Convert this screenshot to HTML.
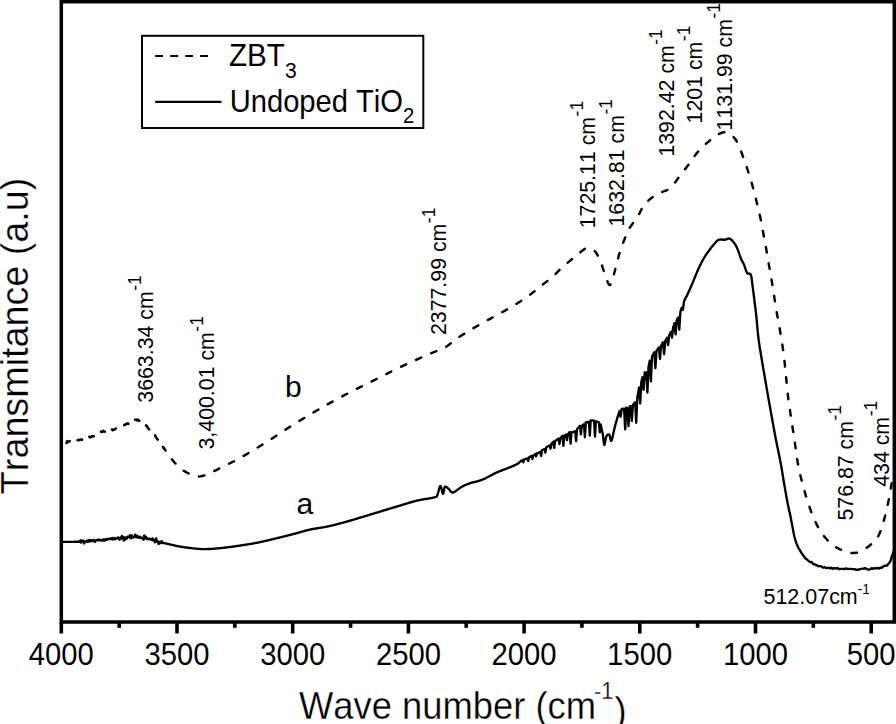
<!DOCTYPE html>
<html><head><meta charset="utf-8"><style>
html,body{margin:0;padding:0;background:#fff;overflow:hidden;width:896px;height:724px;}
svg{display:block;}
text{font-family:"Liberation Sans", sans-serif;fill:#000;font-kerning:none;}
.thin{stroke:#fff;stroke-width:0.3px;}
</style></head><body>
<svg width="896" height="724" viewBox="0 0 896 724">
<rect width="896" height="724" fill="#fff"/>
<g fill="none" stroke="#000" stroke-linejoin="round">
<path d="M62.5 541.8 L63.0 541.8 L63.5 541.8 L64.0 541.8 L64.5 541.8 L65.0 541.8 L65.5 541.8 L66.0 541.8 L66.5 541.8 L67.0 541.8 L67.5 541.8 L68.0 541.8 L68.5 541.8 L69.0 541.8 L69.5 541.8 L70.0 541.8 L70.5 541.8 L71.0 541.8 L71.5 541.8 L72.0 541.8 L72.5 541.8 L73.0 541.8 L73.5 541.8 L74.0 541.8 L74.5 541.7 L75.0 541.7 L75.5 541.7 L76.0 541.7 L76.5 541.7 L77.0 541.7 L77.5 541.7 L78.0 541.7 L78.5 541.7 L79.0 541.7 L79.5 541.7 L80.0 541.0 L80.6 540.3 L81.2 542.6 L81.8 541.7 L82.4 540.6 L83.0 540.5 L83.6 541.5 L84.2 543.5 L84.8 541.7 L85.4 541.3 L86.0 541.3 L86.6 540.8 L87.2 542.0 L87.8 541.9 L88.4 540.0 L89.0 541.1 L89.6 541.4 L90.2 540.0 L90.8 540.9 L91.4 540.2 L92.0 541.3 L92.6 540.4 L93.2 540.4 L93.8 540.8 L94.4 540.1 L95.0 541.9 L95.6 540.6 L96.2 540.4 L96.8 540.1 L97.4 540.4 L98.0 539.6 L98.6 540.1 L99.2 539.6 L99.8 540.4 L100.4 540.5 L101.0 540.4 L101.6 540.4 L102.2 539.8 L102.8 540.6 L103.4 539.5 L104.0 540.8 L104.6 539.6 L105.2 540.3 L105.8 539.7 L106.4 539.0 L107.0 539.7 L107.6 539.5 L108.2 538.9 L108.8 538.7 L109.4 539.1 L110.0 539.1 L110.6 538.7 L111.2 538.3 L111.8 539.2 L112.4 537.9 L113.0 539.3 L113.6 539.3 L114.2 538.7 L114.8 537.9 L115.4 539.1 L116.0 538.8 L116.6 538.6 L117.2 538.2 L117.8 537.4 L118.4 537.6 L119.0 538.6 L119.6 539.8 L120.2 537.6 L120.8 538.2 L121.4 538.5 L122.0 536.0 L122.6 537.3 L123.2 537.2 L123.8 540.5 L124.4 537.6 L125.0 537.5 L125.6 539.4 L126.2 537.6 L126.8 538.6 L127.4 536.6 L128.0 536.8 L128.6 537.1 L129.2 536.6 L129.8 535.4 L130.4 537.8 L131.0 538.4 L131.6 535.1 L132.2 537.1 L132.8 537.2 L133.4 537.7 L134.0 536.6 L134.6 536.6 L135.2 534.6 L135.8 537.1 L136.4 537.2 L137.0 535.7 L137.6 537.3 L138.2 537.2 L138.8 536.7 L139.4 537.9 L140.0 536.8 L140.6 537.1 L141.2 537.6 L141.8 538.3 L142.4 538.1 L143.0 538.3 L143.6 539.9 L144.2 535.4 L144.8 538.2 L145.4 536.9 L146.0 536.8 L146.6 538.8 L147.2 538.2 L147.8 539.3 L148.4 538.9 L149.0 539.1 L149.6 538.5 L150.2 539.3 L150.8 539.1 L151.4 539.9 L152.0 539.4 L152.6 538.4 L153.2 540.4 L153.8 539.5 L154.4 540.2 L155.0 542.3 L155.6 540.8 L156.2 538.5 L156.8 540.8 L157.4 541.9 L158.0 541.4 L158.6 544.1 L159.2 542.2 L159.8 541.9 L160.4 543.1 L161.0 542.2 L161.6 541.0 L162.2 542.6 L162.8 543.2 L163.4 542.9 L163.9 543.0 L164.4 543.1 L164.9 543.2 L165.4 543.4 L165.9 543.5 L166.4 543.6 L166.9 543.7 L167.4 543.8 L167.9 544.0 L168.4 544.1 L168.9 544.2 L169.4 544.3 L169.9 544.4 L170.4 544.5 L170.9 544.6 L171.4 544.8 L171.9 544.9 L172.4 545.0 L172.9 545.1 L173.4 545.2 L173.9 545.3 L174.4 545.4 L174.9 545.5 L175.4 545.7 L175.9 545.8 L176.4 545.9 L176.9 546.0 L177.4 546.1 L177.9 546.2 L178.4 546.3 L178.9 546.4 L179.4 546.5 L179.9 546.5 L180.4 546.6 L180.9 546.7 L181.4 546.8 L181.9 546.9 L182.4 547.0 L182.9 547.0 L183.4 547.1 L183.9 547.2 L184.4 547.3 L184.9 547.3 L185.4 547.4 L185.9 547.5 L186.4 547.5 L186.9 547.6 L187.4 547.7 L187.9 547.7 L188.4 547.8 L188.9 547.8 L189.4 547.9 L189.9 548.0 L190.4 548.0 L190.9 548.1 L191.4 548.1 L191.9 548.2 L192.4 548.3 L192.9 548.3 L193.4 548.4 L193.9 548.4 L194.4 548.5 L194.9 548.5 L195.4 548.6 L195.9 548.6 L196.4 548.7 L196.9 548.7 L197.4 548.8 L197.9 548.8 L198.4 548.8 L198.9 548.9 L199.4 548.9 L199.9 549.0 L200.4 549.0 L200.9 549.0 L201.4 549.1 L201.9 549.1 L202.4 549.1 L202.9 549.1 L203.4 549.1 L203.9 549.1 L204.4 549.1 L204.9 549.1 L205.4 549.1 L205.9 549.1 L206.4 549.1 L206.9 549.1 L207.4 549.1 L207.9 549.0 L208.4 549.0 L208.9 549.0 L209.4 549.0 L209.9 549.0 L210.4 548.9 L210.9 548.9 L211.4 548.9 L211.9 548.8 L212.4 548.8 L212.9 548.8 L213.4 548.7 L213.9 548.7 L214.4 548.6 L214.9 548.6 L215.4 548.6 L215.9 548.5 L216.4 548.5 L216.9 548.4 L217.4 548.4 L217.9 548.4 L218.4 548.3 L218.9 548.3 L219.4 548.2 L219.9 548.2 L220.4 548.1 L220.9 548.1 L221.4 548.0 L221.9 548.0 L222.4 547.9 L222.9 547.9 L223.4 547.8 L223.9 547.7 L224.4 547.7 L224.9 547.6 L225.4 547.6 L225.9 547.5 L226.4 547.5 L226.9 547.4 L227.4 547.3 L227.9 547.3 L228.4 547.2 L228.9 547.1 L229.4 547.1 L229.9 547.0 L230.4 546.9 L230.9 546.9 L231.4 546.8 L231.9 546.7 L232.4 546.7 L232.9 546.6 L233.4 546.5 L233.9 546.5 L234.4 546.4 L234.9 546.3 L235.4 546.2 L235.9 546.2 L236.4 546.1 L236.9 546.0 L237.4 545.9 L237.9 545.9 L238.4 545.8 L238.9 545.7 L239.4 545.7 L239.9 545.6 L240.4 545.5 L240.9 545.4 L241.4 545.3 L241.9 545.3 L242.4 545.2 L242.9 545.1 L243.4 545.0 L243.9 545.0 L244.4 544.9 L244.9 544.8 L245.4 544.7 L245.9 544.7 L246.4 544.6 L246.9 544.5 L247.4 544.4 L247.9 544.3 L248.4 544.3 L248.9 544.2 L249.4 544.1 L249.9 544.0 L250.4 543.9 L250.9 543.8 L251.4 543.8 L251.9 543.7 L252.4 543.6 L252.9 543.5 L253.4 543.4 L253.9 543.3 L254.4 543.2 L254.9 543.1 L255.4 543.0 L255.9 542.9 L256.4 542.9 L256.9 542.8 L257.4 542.7 L257.9 542.6 L258.4 542.5 L258.9 542.4 L259.4 542.3 L259.9 542.2 L260.4 542.0 L260.9 541.9 L261.4 541.8 L261.9 541.7 L262.4 541.6 L262.9 541.5 L263.4 541.4 L263.9 541.3 L264.4 541.2 L264.9 541.1 L265.4 540.9 L265.9 540.8 L266.4 540.7 L266.9 540.6 L267.4 540.5 L267.9 540.4 L268.4 540.2 L268.9 540.1 L269.4 540.0 L269.9 539.9 L270.4 539.8 L270.9 539.6 L271.4 539.5 L271.9 539.4 L272.4 539.3 L272.9 539.2 L273.4 539.0 L273.9 538.9 L274.4 538.8 L274.9 538.7 L275.4 538.5 L275.9 538.4 L276.4 538.3 L276.9 538.2 L277.4 538.1 L277.9 537.9 L278.4 537.8 L278.9 537.7 L279.4 537.6 L279.9 537.4 L280.4 537.3 L280.9 537.2 L281.4 537.1 L281.9 537.0 L282.4 536.8 L282.9 536.7 L283.4 536.6 L283.9 536.5 L284.4 536.3 L284.9 536.2 L285.4 536.1 L285.9 535.9 L286.4 535.8 L286.9 535.7 L287.4 535.6 L287.9 535.4 L288.4 535.3 L288.9 535.2 L289.4 535.1 L289.9 534.9 L290.4 534.8 L290.9 534.7 L291.4 534.5 L291.9 534.4 L292.4 534.3 L292.9 534.2 L293.4 534.0 L293.9 533.9 L294.4 533.8 L294.9 533.6 L295.4 533.5 L295.9 533.4 L296.4 533.2 L296.9 533.1 L297.4 533.0 L297.9 532.8 L298.4 532.7 L298.9 532.5 L299.4 532.4 L299.9 532.3 L300.4 532.1 L300.9 532.0 L301.4 531.8 L301.9 531.7 L302.4 531.5 L302.9 531.4 L303.4 531.3 L303.9 531.1 L304.4 531.0 L304.9 530.9 L305.4 530.7 L305.9 530.6 L306.4 530.5 L306.9 530.3 L307.4 530.2 L307.9 530.1 L308.4 530.0 L308.9 529.8 L309.4 529.7 L309.9 529.6 L310.4 529.5 L310.9 529.4 L311.4 529.3 L311.9 529.2 L312.4 529.1 L312.9 529.0 L313.4 528.9 L313.9 528.8 L314.4 528.7 L314.9 528.7 L315.4 528.6 L315.9 528.5 L316.4 528.4 L316.9 528.3 L317.4 528.2 L317.9 528.2 L318.4 528.1 L318.9 528.0 L319.4 527.9 L319.9 527.8 L320.4 527.8 L320.9 527.7 L321.4 527.6 L321.9 527.5 L322.4 527.4 L322.9 527.3 L323.4 527.3 L323.9 527.2 L324.4 527.1 L324.9 527.0 L325.4 526.9 L325.9 526.8 L326.4 526.7 L326.9 526.6 L327.4 526.5 L327.9 526.4 L328.4 526.3 L328.9 526.2 L329.4 526.1 L329.9 526.0 L330.4 525.8 L330.9 525.7 L331.4 525.6 L331.9 525.5 L332.4 525.4 L332.9 525.3 L333.4 525.1 L333.9 525.0 L334.4 524.9 L334.9 524.8 L335.4 524.6 L335.9 524.5 L336.4 524.4 L336.9 524.3 L337.4 524.1 L337.9 524.0 L338.4 523.9 L338.9 523.7 L339.4 523.6 L339.9 523.5 L340.4 523.3 L340.9 523.2 L341.4 523.1 L341.9 522.9 L342.4 522.8 L342.9 522.7 L343.4 522.5 L343.9 522.4 L344.4 522.3 L344.9 522.1 L345.4 522.0 L345.9 521.8 L346.4 521.7 L346.9 521.6 L347.4 521.4 L347.9 521.3 L348.4 521.1 L348.9 521.0 L349.4 520.9 L349.9 520.7 L350.4 520.6 L350.9 520.4 L351.4 520.3 L351.9 520.1 L352.4 520.0 L352.9 519.8 L353.4 519.7 L353.9 519.5 L354.4 519.4 L354.9 519.2 L355.4 519.1 L355.9 518.9 L356.4 518.8 L356.9 518.6 L357.4 518.5 L357.9 518.3 L358.4 518.2 L358.9 518.0 L359.4 517.9 L359.9 517.7 L360.4 517.6 L360.9 517.4 L361.4 517.3 L361.9 517.1 L362.4 517.0 L362.9 516.8 L363.4 516.7 L363.9 516.5 L364.4 516.4 L364.9 516.2 L365.4 516.1 L365.9 515.9 L366.4 515.8 L366.9 515.6 L367.4 515.5 L367.9 515.3 L368.4 515.2 L368.9 515.0 L369.4 514.8 L369.9 514.7 L370.4 514.5 L370.9 514.4 L371.4 514.2 L371.9 514.1 L372.4 513.9 L372.9 513.8 L373.4 513.6 L373.9 513.5 L374.4 513.3 L374.9 513.2 L375.4 513.0 L375.9 512.9 L376.4 512.7 L376.9 512.6 L377.4 512.4 L377.9 512.3 L378.4 512.1 L378.9 512.0 L379.4 511.8 L379.9 511.7 L380.4 511.5 L380.9 511.4 L381.4 511.2 L381.9 511.0 L382.4 510.9 L382.9 510.7 L383.4 510.6 L383.9 510.4 L384.4 510.3 L384.9 510.1 L385.4 510.0 L385.9 509.8 L386.4 509.7 L386.9 509.5 L387.4 509.4 L387.9 509.2 L388.4 509.1 L388.9 508.9 L389.4 508.8 L389.9 508.6 L390.4 508.5 L390.9 508.3 L391.4 508.2 L391.9 508.0 L392.4 507.9 L392.9 507.7 L393.4 507.6 L393.9 507.4 L394.4 507.3 L394.9 507.1 L395.4 507.0 L395.9 506.8 L396.4 506.7 L396.9 506.5 L397.4 506.4 L397.9 506.2 L398.4 506.1 L398.9 505.9 L399.4 505.8 L399.9 505.6 L400.4 505.5 L400.9 505.3 L401.4 505.2 L401.9 505.0 L402.4 504.9 L402.9 504.7 L403.4 504.6 L403.9 504.4 L404.4 504.2 L404.9 504.1 L405.4 503.9 L405.9 503.8 L406.4 503.6 L406.9 503.5 L407.4 503.3 L407.9 503.2 L408.4 503.0 L408.9 502.9 L409.4 502.7 L409.9 502.6 L410.4 502.4 L410.9 502.3 L411.4 502.1 L411.9 502.0 L412.4 501.8 L412.9 501.7 L413.4 501.6 L413.9 501.4 L414.4 501.3 L414.9 501.2 L415.4 501.0 L415.9 500.9 L416.4 500.8 L416.9 500.6 L417.4 500.5 L417.9 500.4 L418.4 500.3 L418.9 500.2 L419.4 500.1 L419.9 500.0 L420.4 499.9 L420.9 499.8 L421.4 499.7 L421.9 499.6 L422.4 499.5 L422.9 499.5 L423.4 499.4 L423.9 499.3 L424.4 499.2 L424.9 499.1 L425.4 499.0 L425.9 499.0 L426.4 498.9 L426.9 498.8 L427.4 498.7 L427.9 498.6 L428.4 498.6 L428.9 498.5 L429.4 498.4 L429.9 498.3 L430.4 498.2 L430.9 498.1 L431.4 498.0 L431.9 497.9 L432.4 497.8 L432.9 497.7 L433.4 497.6 L433.9 497.5 L434.4 497.4 L434.9 497.2 L435.4 497.1 L435.9 496.9 L436.4 496.7 L436.9 496.4 L437.4 494.9 L437.9 493.4 L438.4 491.8 L438.9 489.8 L439.4 487.9 L439.9 486.5 L440.4 485.9 L440.9 486.6 L441.4 488.3 L441.9 490.5 L442.4 492.6 L442.9 493.8 L443.4 493.2 L443.9 490.3 L444.4 487.7 L444.9 486.7 L445.4 486.6 L445.9 486.7 L446.4 487.0 L446.9 487.4 L447.4 487.8 L447.9 488.2 L448.4 488.6 L448.9 489.1 L449.4 489.7 L449.9 490.4 L450.4 491.1 L450.9 491.7 L451.4 492.1 L451.9 492.4 L452.4 492.5 L452.9 492.5 L453.4 492.4 L453.9 492.2 L454.4 491.9 L454.9 491.7 L455.4 491.3 L455.9 491.0 L456.4 490.6 L456.9 490.3 L457.4 489.9 L457.9 489.5 L458.4 489.1 L458.9 488.8 L459.4 488.4 L459.9 488.0 L460.4 487.7 L460.9 487.3 L461.4 487.0 L461.9 486.7 L462.4 486.5 L462.9 486.2 L463.4 486.0 L463.9 485.7 L464.4 485.5 L464.9 485.2 L465.4 485.0 L465.9 484.8 L466.4 484.6 L466.9 484.4 L467.4 484.2 L467.9 484.0 L468.4 483.8 L468.9 483.6 L469.4 483.4 L469.9 483.2 L470.4 483.1 L470.9 482.9 L471.4 482.8 L471.9 482.6 L472.4 482.5 L472.9 482.4 L473.4 482.3 L473.9 482.1 L474.4 482.0 L474.9 481.9 L475.4 481.8 L475.9 481.7 L476.4 481.6 L476.9 481.4 L477.4 481.3 L477.9 481.2 L478.4 481.0 L478.9 480.9 L479.4 480.7 L479.9 480.6 L480.4 480.4 L480.9 480.2 L481.4 480.1 L481.9 479.9 L482.4 479.7 L482.9 479.5 L483.4 479.2 L483.9 479.0 L484.4 478.8 L484.9 478.5 L485.4 478.3 L485.9 478.1 L486.4 477.8 L486.9 477.5 L487.4 477.3 L487.9 477.0 L488.4 476.8 L488.9 476.5 L489.4 476.2 L489.9 476.0 L490.4 475.7 L490.9 475.4 L491.4 475.2 L491.9 474.9 L492.4 474.6 L492.9 474.4 L493.4 474.1 L493.9 473.9 L494.4 473.6 L494.9 473.4 L495.4 473.1 L495.9 472.9 L496.4 472.7 L496.9 472.5 L497.4 472.2 L497.9 472.0 L498.4 471.8 L498.9 471.6 L499.4 471.4 L499.9 471.2 L500.4 471.0 L500.9 470.8 L501.4 470.6 L501.9 470.4 L502.4 470.2 L502.9 470.0 L503.4 469.8 L503.9 469.6 L504.4 469.4 L504.9 469.2 L505.4 469.1 L505.9 468.9 L506.4 468.7 L506.9 468.5 L507.4 468.3 L507.9 468.1 L508.4 467.9 L508.9 467.7 L509.4 467.5 L509.9 467.3 L510.4 467.1 L510.9 466.9 L511.4 466.7 L511.9 466.5 L512.4 466.3 L512.9 466.1 L513.4 465.9 L513.9 465.6 L514.4 465.4 L514.9 465.2 L515.4 464.9 L515.9 464.7 L516.4 464.4 L516.9 464.1 L517.4 463.7 L518.3 463.5 L519.2 462.4 L522.4 460.0 L523.3 462.4 L524.2 459.4 L527.3 458.4 L528.2 461.0 L529.1 457.3 L531.5 456.0 L532.4 459.0 L533.3 455.7 L535.2 454.1 L536.1 456.3 L537.0 453.3 L540.2 452.0 L541.1 455.9 L542.0 450.0 L544.5 449.0 L545.4 452.6 L546.3 447.3 L549.6 445.5 L550.5 448.7 L551.4 443.8 L553.3 441.7 L554.2 447.9 L555.1 441.0 L558.5 438.6 L559.4 444.1 L560.3 438.2 L562.5 435.7 L563.4 445.9 L564.3 435.7 L566.1 434.6 L567.0 440.1 L567.9 434.3 L569.7 431.9 L570.6 443.6 L571.5 432.4 L575.2 431.3 L576.1 441.2 L577.0 429.2 L580.0 425.8 L580.9 434.3 L581.8 426.0 L584.0 424.2 L584.9 437.2 L585.8 422.5 L588.9 421.8 L589.8 435.6 L590.7 420.5 L594.1 420.6 L595.0 436.5 L595.9 421.3 L598.9 422.3 L599.8 432.4 L600.7 424.5 L603.0 435.3 L603.5 440.7 L604.0 444.4 L604.5 444.9 L605.0 442.8 L605.5 439.7 L606.0 437.3 L606.5 436.1 L607.0 435.4 L607.5 434.9 L608.0 434.6 L608.5 434.4 L609.0 434.4 L609.5 434.8 L610.0 436.7 L610.5 439.5 L611.0 441.0 L611.5 440.7 L612.0 439.3 L612.5 437.4 L613.0 435.2 L613.5 432.8 L614.0 430.5 L614.5 428.3 L615.0 426.2 L615.5 424.3 L616.0 422.6 L616.5 420.8 L617.0 419.1 L617.5 417.3 L618.0 415.7 L618.5 414.3 L619.0 413.0 L619.5 410.9 L620.6 416.8 L621.7 409.0 L624.1 408.6 L625.2 429.4 L626.3 407.4 L627.4 408.2 L628.5 426.2 L629.6 406.5 L630.7 406.2 L631.8 420.9 L632.9 404.9 L635.1 402.3 L636.2 422.8 L637.3 397.8 L639.1 387.5 L640.2 403.5 L641.3 382.1 L642.5 377.3 L643.6 389.9 L644.7 372.5 L646.3 372.5 L647.4 392.5 L648.5 367.1 L649.8 360.6 L650.9 381.4 L652.0 356.6 L654.3 352.2 L655.4 368.2 L656.5 350.7 L658.9 347.4 L660.0 359.0 L661.1 345.7 L663.0 342.2 L664.1 354.1 L665.2 341.0 L667.0 337.7 L668.1 345.0 L669.2 335.2 L670.9 331.9 L672.0 337.6 L673.1 327.8 L674.5 323.2 L675.6 334.4 L676.7 320.4 L678.2 317.4 L679.3 329.7 L680.4 311.7 L681.8 307.6 L682.9 309.9 L684.0 301.4 L685.9 297.2 L687.0 295.7 L688.1 292.9 L690.3 288.2 L690.8 287.1 L691.3 285.9 L691.8 284.8 L692.3 283.6 L692.8 282.4 L693.3 281.2 L693.8 279.9 L694.3 278.7 L694.8 277.5 L695.3 276.3 L695.8 275.1 L696.3 273.9 L696.8 272.7 L697.3 271.5 L697.8 270.3 L698.3 269.2 L698.8 268.1 L699.3 267.1 L699.8 266.0 L700.3 265.0 L700.8 264.0 L701.3 263.0 L701.8 262.0 L702.3 261.0 L702.8 260.1 L703.3 259.2 L703.8 258.3 L704.3 257.5 L704.8 256.6 L705.3 255.9 L705.8 255.1 L706.3 254.4 L706.8 253.6 L707.3 252.9 L707.8 252.2 L708.3 251.5 L708.8 250.9 L709.3 250.2 L709.8 249.5 L710.3 248.8 L710.8 248.2 L711.3 247.6 L711.8 246.9 L712.3 246.3 L712.8 245.7 L713.3 245.2 L713.8 244.6 L714.3 244.0 L714.8 243.4 L715.3 242.8 L715.8 242.2 L716.3 241.6 L716.8 241.1 L717.3 240.7 L717.8 240.3 L718.3 240.0 L718.8 239.8 L719.3 239.6 L719.8 239.6 L720.3 239.5 L720.8 239.5 L721.3 239.5 L721.8 239.6 L722.3 239.6 L722.8 239.7 L723.3 239.7 L723.8 239.7 L724.3 239.7 L724.8 239.7 L725.3 239.6 L725.8 239.5 L726.3 239.3 L726.8 239.1 L727.3 238.9 L727.8 238.7 L728.3 238.6 L728.8 238.5 L729.3 238.6 L729.8 238.7 L730.3 239.0 L730.8 239.3 L731.3 239.7 L731.8 240.2 L732.3 240.7 L732.8 241.3 L733.3 241.8 L733.8 242.5 L734.3 243.1 L734.8 243.8 L735.3 244.6 L735.8 245.4 L736.3 246.4 L736.8 247.5 L737.3 248.6 L737.8 249.8 L738.3 251.1 L738.8 252.5 L739.3 254.0 L739.8 255.5 L740.3 257.0 L740.8 258.3 L741.3 259.5 L741.8 260.5 L742.3 261.4 L742.8 262.3 L743.3 263.3 L743.8 264.3 L744.3 265.5 L744.8 266.9 L745.3 268.4 L745.8 269.9 L746.3 271.3 L746.8 272.3 L747.3 273.1 L747.8 273.5 L748.3 273.6 L748.8 273.6 L749.3 273.6 L749.8 273.6 L750.3 274.0 L750.8 274.7 L751.3 276.5 L751.8 279.5 L752.3 283.8 L752.8 287.8 L753.3 291.5 L753.8 295.4 L754.3 299.5 L754.8 303.5 L755.3 307.5 L755.8 311.6 L756.3 316.0 L756.8 320.8 L757.3 326.8 L757.8 332.4 L758.3 337.0 L758.8 340.8 L759.3 344.3 L759.8 347.6 L760.3 350.7 L760.8 353.8 L761.3 356.8 L761.8 359.8 L762.3 362.7 L762.8 365.7 L763.3 368.6 L763.8 371.5 L764.3 374.4 L764.8 377.4 L765.3 380.3 L765.8 383.2 L766.3 386.1 L766.8 389.0 L767.3 391.8 L767.8 394.7 L768.3 397.5 L768.8 400.3 L769.3 403.1 L769.8 405.9 L770.3 408.7 L770.8 411.6 L771.3 414.4 L771.8 417.2 L772.3 420.0 L772.8 422.8 L773.3 425.6 L773.8 428.3 L774.3 431.0 L774.8 433.7 L775.3 436.4 L775.8 438.9 L776.3 441.5 L776.8 444.0 L777.3 446.4 L777.8 448.8 L778.3 451.3 L778.8 453.7 L779.3 456.1 L779.8 458.6 L780.3 461.2 L780.8 463.8 L781.3 466.5 L781.8 469.4 L782.3 472.4 L782.8 475.5 L783.3 478.6 L783.8 481.7 L784.3 484.7 L784.8 487.5 L785.3 490.4 L785.8 493.2 L786.3 496.0 L786.8 498.7 L787.3 501.4 L787.8 504.0 L788.3 506.6 L788.8 508.9 L789.3 511.0 L789.8 513.1 L790.3 515.6 L790.8 518.1 L791.3 520.7 L791.8 523.3 L792.3 525.9 L792.8 528.4 L793.3 531.2 L793.8 533.9 L794.3 536.3 L794.8 538.2 L795.3 539.9 L795.8 541.4 L796.3 542.8 L796.8 544.1 L797.3 545.3 L797.8 546.5 L798.3 547.5 L798.8 548.4 L799.3 549.3 L799.8 550.2 L800.3 551.0 L800.8 551.8 L801.3 552.6 L801.8 553.3 L802.3 554.1 L802.8 554.8 L803.3 555.5 L803.8 556.1 L804.3 556.8 L804.8 557.4 L805.3 558.5 L806.6 558.9 L807.9 560.4 L809.2 561.4 L810.5 562.2 L811.8 562.0 L813.1 564.1 L814.4 564.1 L815.7 565.0 L817.0 565.3 L818.3 566.2 L819.6 566.1 L820.9 566.2 L822.2 567.1 L823.5 567.7 L824.8 567.1 L826.1 568.1 L827.4 567.8 L828.7 567.6 L830.0 568.6 L831.3 567.7 L832.6 568.7 L833.9 568.1 L835.2 568.6 L836.5 568.0 L837.8 568.3 L839.1 569.2 L840.4 568.9 L841.7 568.9 L843.0 568.8 L844.3 569.2 L845.6 568.4 L846.9 568.6 L848.2 569.1 L849.5 568.8 L850.8 568.9 L852.1 569.2 L853.4 569.1 L854.7 569.1 L856.0 569.9 L857.3 569.7 L858.6 569.7 L859.9 569.2 L861.2 568.9 L862.5 568.5 L863.8 568.9 L865.1 568.1 L866.4 568.8 L867.7 569.3 L869.0 569.6 L870.3 569.2 L871.6 568.3 L872.9 568.8 L874.2 568.1 L875.5 568.6 L876.8 568.0 L878.1 568.2 L879.4 568.6 L880.7 567.5 L882.0 567.8 L883.3 566.4 L884.6 565.6 L885.9 565.8 L887.2 565.3 L888.5 563.6 L889.0 563.2 L889.5 562.6 L890.0 561.9 L890.5 560.8 L891.0 559.3 L891.5 557.5 L892.0 556.0 L892.5 554.6 L893.0 553.1 L893.5 551.6 L894.0 550.1 L894.0 550.0" stroke-width="2.35"/>
<path d="M66.5 443.0 L67.1 441.1 L67.7 442.1 L68.3 441.6 L68.9 441.6 L69.4 441.6 L70.0 440.7 L70.6 441.3 L71.2 441.0 L71.8 442.5 L72.4 441.2 L73.0 440.8 L73.6 440.8 L74.2 440.5 L74.8 440.2 L75.3 440.4 L75.9 440.6 L76.5 440.2 L77.1 440.6 L77.7 440.0 L78.3 440.0 L78.9 440.4 L79.5 439.9 L80.1 439.4 L80.6 439.4 L81.2 439.6 L81.8 440.0 L82.4 439.0 L83.0 438.9 L83.6 439.2 L84.2 438.4 L84.7 438.5 L85.3 438.8 L85.9 438.6 L86.5 438.2 L87.1 438.3 L87.7 436.8 L88.3 438.2 L88.8 437.2 L89.4 436.8 L90.0 437.4 L90.6 437.4 L91.1 436.8 L91.7 436.3 L92.3 436.5 L92.8 436.3 L93.4 436.6 L93.9 436.1 L94.4 435.6 L95.0 435.7 L95.5 434.9 L96.0 434.3 L96.5 434.6 L97.1 434.3 L97.6 433.7 L98.1 433.2 L98.6 433.3 L99.2 431.9 L99.7 432.9 L100.3 432.6 L100.8 431.6 L101.4 432.0 L102.0 431.5 L102.5 432.0 L103.1 430.7 L103.7 431.1 L104.3 431.6 L104.9 431.7 L105.5 430.3 L106.1 430.9 L106.7 431.1 L107.3 430.7 L107.9 431.4 L108.5 430.2 L109.0 430.7 L109.6 430.1 L110.2 430.9 L110.8 430.2 L111.4 429.9 L112.0 429.2 L112.5 430.4 L113.1 429.9 L113.7 429.7 L114.3 429.7 L114.9 429.2 L115.4 428.7 L116.0 428.4 L116.6 428.2 L117.1 428.9 L117.7 427.6 L118.3 427.7 L118.8 427.6 L119.4 427.6 L119.9 427.5 L120.5 426.5 L121.0 426.1 L121.5 426.5 L122.1 426.7 L122.6 426.2 L123.1 425.7 L123.7 425.2 L124.2 425.2 L124.7 424.7 L125.3 424.8 L125.8 423.9 L126.3 424.0 L126.9 423.6 L127.4 423.7 L127.9 423.3 L128.5 423.9 L129.0 423.3 L129.6 423.0 L130.1 421.3 L130.6 421.7 L131.2 421.3 L131.7 421.5 L132.2 420.1 L132.8 421.2 L133.3 420.9 L133.9 419.8 L134.4 419.7 L135.0 419.6 L135.6 419.8 L136.2 419.9 L136.8 420.4 L137.4 419.6 L138.0 420.0 L138.6 419.9 L139.1 420.8 L139.7 420.6 L140.2 421.1 L140.7 420.5 L141.2 421.1 L141.7 421.2 L142.2 422.5 L142.7 422.5 L143.2 422.5 L143.6 422.8 L144.1 423.6 L144.6 423.5 L145.0 423.8 L145.4 424.8 L145.8 426.1 L146.2 425.4 L146.5 425.8 L146.9 426.0 L147.3 426.4 L147.6 427.6 L148.0 428.3 L148.4 428.4 L148.8 429.0 L149.1 429.4 L149.5 429.8 L150.0 429.6 L150.4 430.4 L150.8 431.1 L151.2 431.2 L151.6 431.8 L152.0 432.1 L152.4 432.7 L152.8 433.7 L153.2 433.6 L153.5 434.2 L153.9 435.0 L154.3 435.4 L154.7 436.3 L155.1 435.2 L155.5 436.8 L155.9 436.8 L156.3 437.5 L156.6 438.2 L157.0 438.8 L157.4 439.3 L157.7 439.4 L158.1 440.5 L158.4 440.2 L158.8 440.7 L159.1 441.6 L159.5 441.5 L159.8 443.1 L160.2 443.1 L160.5 444.1 L160.9 443.7 L161.2 444.1 L161.5 444.8 L161.9 445.5 L162.2 445.5 L162.6 446.4 L162.9 446.7 L163.2 447.8 L163.6 447.4 L163.9 448.6 L164.2 448.4 L164.6 448.8 L164.9 449.4 L165.3 450.2 L165.7 450.7 L166.1 451.3 L166.4 451.9 L166.8 452.5 L167.2 453.0 L167.7 453.6 L168.1 454.2 L168.5 454.8 L168.9 455.3 L169.3 455.9 L169.7 456.4 L170.1 457.0 L170.6 457.6 L171.0 458.1 L171.4 458.7 L171.9 459.2 L172.3 459.8 L172.7 460.3 L173.2 460.9 L173.6 461.4 L174.1 461.9 L174.5 462.5 L175.0 463.0 L175.5 463.5 L175.9 464.0 L176.4 464.5 L176.9 465.0 L177.4 465.5 L177.9 466.0 L178.4 466.5 L178.9 467.0 L179.4 467.4 L180.0 467.9 L180.5 468.4 L181.0 468.8 L181.6 469.2 L182.2 469.6 L182.7 470.0 L183.3 470.4 L183.9 470.8 L184.5 471.2 L185.1 471.5 L185.7 471.9 L186.3 472.2 L186.9 472.6 L187.5 472.9 L188.2 473.2 L188.8 473.5 L189.4 473.8 L190.1 474.1 L190.7 474.4 L191.3 474.7 L192.0 475.0 L192.6 475.3 L193.3 475.5 L193.9 475.7 L194.6 475.9 L195.3 476.1 L196.0 476.3 L196.7 476.4 L197.3 476.5 L198.0 476.5 L198.7 476.5 L199.4 476.5 L200.1 476.4 L200.8 476.3 L201.5 476.2 L202.2 476.0 L202.9 475.8 L203.6 475.7 L204.2 475.5 L204.9 475.2 L205.6 475.0 L206.2 474.8 L206.9 474.5 L207.5 474.3 L208.2 474.0 L208.8 473.7 L209.5 473.4 L210.1 473.2 L210.7 472.9 L211.4 472.6 L212.0 472.2 L212.6 471.9 L213.2 471.6 L213.9 471.3 L214.5 471.0 L215.1 470.6 L215.7 470.3 L216.3 470.0 L217.0 469.7 L217.6 469.4 L218.2 469.1 L218.8 468.7 L219.5 468.4 L220.1 468.1 L220.7 467.8 L221.4 467.5 L222.0 467.2 L222.6 466.9 L223.2 466.6 L223.9 466.3 L224.5 466.0 L225.1 465.7 L225.8 465.3 L226.4 465.0 L227.0 464.7 L227.6 464.4 L228.3 464.1 L228.9 463.8 L229.5 463.5 L230.1 463.2 L230.8 462.8 L231.4 462.5 L232.0 462.2 L232.6 461.9 L233.3 461.6 L233.9 461.3 L234.5 460.9 L235.1 460.6 L235.7 460.3 L236.4 460.0 L237.0 459.6 L237.6 459.3 L238.2 459.0 L238.8 458.6 L239.4 458.3 L240.0 457.9 L240.7 457.6 L241.3 457.3 L241.9 456.9 L242.5 456.6 L243.1 456.2 L243.7 455.9 L244.3 455.5 L244.9 455.2 L245.5 454.8 L246.1 454.5 L246.7 454.1 L247.3 453.8 L247.9 453.4 L248.5 453.1 L249.1 452.7 L249.7 452.3 L250.3 452.0 L251.0 451.6 L251.6 451.3 L252.2 450.9 L252.8 450.5 L253.3 450.2 L253.9 449.8 L254.5 449.5 L255.1 449.1 L255.7 448.7 L256.3 448.4 L256.9 448.0 L257.5 447.6 L258.1 447.3 L258.7 446.9 L259.3 446.5 L259.9 446.2 L260.5 445.8 L261.1 445.4 L261.7 445.1 L262.3 444.7 L262.9 444.3 L263.5 444.0 L264.1 443.6 L264.7 443.2 L265.3 442.8 L265.9 442.5 L266.5 442.1 L267.1 441.7 L267.6 441.4 L268.2 441.0 L268.8 440.6 L269.4 440.2 L270.0 439.9 L270.6 439.5 L271.2 439.1 L271.8 438.7 L272.4 438.3 L272.9 438.0 L273.5 437.6 L274.1 437.2 L274.7 436.8 L275.3 436.4 L275.9 436.0 L276.5 435.7 L277.0 435.3 L277.6 434.9 L278.2 434.5 L278.8 434.1 L279.4 433.7 L280.0 433.4 L280.6 433.0 L281.1 432.6 L281.7 432.2 L282.3 431.8 L282.9 431.4 L283.5 431.0 L284.1 430.7 L284.6 430.3 L285.2 429.9 L285.8 429.5 L286.4 429.1 L287.0 428.7 L287.6 428.4 L288.2 428.0 L288.8 427.6 L289.3 427.2 L289.9 426.8 L290.5 426.5 L291.1 426.1 L291.7 425.7 L292.3 425.3 L292.9 425.0 L293.5 424.6 L294.1 424.2 L294.7 423.8 L295.3 423.5 L295.9 423.1 L296.4 422.7 L297.0 422.4 L297.6 422.0 L298.2 421.6 L298.8 421.3 L299.4 420.9 L300.0 420.5 L300.6 420.2 L301.2 419.8 L301.8 419.4 L302.4 419.1 L303.0 418.7 L303.6 418.3 L304.2 418.0 L304.8 417.6 L305.4 417.3 L306.0 416.9 L306.6 416.5 L307.2 416.2 L307.8 415.8 L308.4 415.4 L309.0 415.1 L309.6 414.7 L310.2 414.4 L310.8 414.0 L311.4 413.7 L312.0 413.3 L312.6 412.9 L313.2 412.6 L313.8 412.2 L314.4 411.9 L315.0 411.5 L315.6 411.2 L316.2 410.8 L316.8 410.5 L317.4 410.1 L318.1 409.8 L318.7 409.4 L319.3 409.1 L319.9 408.7 L320.5 408.4 L321.1 408.0 L321.7 407.7 L322.3 407.3 L322.9 407.0 L323.5 406.6 L324.1 406.3 L324.7 405.9 L325.3 405.6 L326.0 405.2 L326.6 404.9 L327.2 404.6 L327.8 404.2 L328.4 403.9 L329.0 403.5 L329.6 403.2 L330.2 402.9 L330.8 402.5 L331.5 402.2 L332.1 401.8 L332.7 401.5 L333.3 401.2 L333.9 400.8 L334.5 400.5 L335.1 400.2 L335.7 399.8 L336.4 399.5 L337.0 399.2 L337.6 398.8 L338.2 398.5 L338.8 398.2 L339.4 397.8 L340.1 397.5 L340.7 397.2 L341.3 396.8 L341.9 396.5 L342.5 396.2 L343.1 395.8 L343.8 395.5 L344.4 395.2 L345.0 394.9 L345.6 394.5 L346.2 394.2 L346.9 393.9 L347.5 393.6 L348.1 393.2 L348.7 392.9 L349.3 392.6 L350.0 392.3 L350.6 392.0 L351.2 391.6 L351.8 391.3 L352.5 391.0 L353.1 390.7 L353.7 390.4 L354.3 390.0 L355.0 389.7 L355.6 389.4 L356.2 389.1 L356.8 388.8 L357.5 388.5 L358.1 388.2 L358.7 387.9 L359.3 387.5 L360.0 387.2 L360.6 386.9 L361.2 386.6 L361.9 386.3 L362.5 386.0 L363.1 385.7 L363.7 385.4 L364.4 385.1 L365.0 384.8 L365.6 384.4 L366.2 384.1 L366.9 383.8 L367.5 383.5 L368.1 383.2 L368.8 382.9 L369.4 382.6 L370.0 382.3 L370.6 382.0 L371.3 381.7 L371.9 381.3 L372.5 381.0 L373.1 380.7 L373.8 380.4 L374.4 380.1 L375.0 379.8 L375.7 379.5 L376.3 379.1 L376.9 378.8 L377.5 378.5 L378.2 378.2 L378.8 377.9 L379.4 377.6 L380.0 377.3 L380.6 376.9 L381.3 376.6 L381.9 376.3 L382.5 376.0 L383.1 375.7 L383.8 375.3 L384.4 375.0 L385.0 374.7 L385.6 374.4 L386.3 374.1 L386.9 373.8 L387.5 373.4 L388.1 373.1 L388.8 372.8 L389.4 372.5 L390.0 372.2 L390.6 371.9 L391.3 371.5 L391.9 371.2 L392.5 370.9 L393.1 370.6 L393.8 370.3 L394.4 370.0 L395.0 369.7 L395.6 369.4 L396.3 369.1 L396.9 368.7 L397.5 368.4 L398.2 368.1 L398.8 367.8 L399.4 367.5 L400.1 367.2 L400.7 366.9 L401.3 366.6 L401.9 366.3 L402.6 366.0 L403.2 365.7 L403.8 365.4 L404.5 365.1 L405.1 364.8 L405.8 364.5 L406.4 364.2 L407.0 364.0 L407.7 363.7 L408.3 363.4 L408.9 363.1 L409.6 362.8 L410.2 362.5 L410.8 362.2 L411.5 361.9 L412.1 361.6 L412.8 361.3 L413.4 361.1 L414.0 360.8 L414.7 360.5 L415.3 360.2 L416.0 359.9 L416.6 359.6 L417.2 359.3 L417.9 359.1 L418.5 358.8 L419.1 358.5 L419.8 358.2 L420.4 357.9 L421.1 357.6 L421.7 357.4 L422.3 357.1 L423.0 356.8 L423.6 356.5 L424.3 356.2 L424.9 355.9 L425.6 355.7 L426.2 355.4 L426.8 355.1 L427.5 354.8 L428.1 354.5 L428.8 354.3 L429.4 354.0 L430.1 353.7 L430.7 353.5 L431.3 353.2 L432.0 352.9 L432.6 352.7 L433.3 352.4 L433.9 352.1 L434.6 351.9 L435.2 351.6 L435.9 351.3 L436.5 351.1 L437.2 350.8 L437.8 350.5 L438.5 350.3 L439.1 350.0 L439.8 349.7 L440.4 349.5 L441.1 349.2 L441.7 348.9 L442.3 348.6 L443.0 348.3 L443.6 348.0 L444.2 347.7 L444.9 347.4 L445.5 347.1 L446.1 346.7 L446.7 346.4 L447.3 346.0 L447.8 345.6 L448.4 345.2 L449.0 344.8 L449.5 344.3 L450.1 343.9 L450.6 343.4 L451.1 343.0 L451.6 342.5 L452.2 342.0 L452.7 341.6 L453.2 341.1 L453.8 340.7 L454.3 340.3 L454.9 339.8 L455.5 339.4 L456.0 339.0 L456.6 338.6 L457.2 338.2 L457.8 337.8 L458.4 337.5 L458.9 337.1 L459.5 336.7 L460.1 336.3 L460.7 336.0 L461.3 335.6 L461.9 335.2 L462.5 334.9 L463.1 334.5 L463.7 334.1 L464.3 333.8 L464.9 333.4 L465.5 333.1 L466.1 332.7 L466.7 332.3 L467.3 332.0 L467.9 331.6 L468.5 331.2 L469.1 330.9 L469.7 330.5 L470.3 330.1 L470.9 329.8 L471.5 329.4 L472.1 329.1 L472.7 328.7 L473.3 328.3 L473.9 328.0 L474.5 327.6 L475.1 327.2 L475.7 326.9 L476.3 326.5 L476.9 326.2 L477.5 325.8 L478.1 325.5 L478.7 325.1 L479.3 324.8 L479.9 324.4 L480.5 324.1 L481.1 323.7 L481.7 323.4 L482.3 323.0 L482.9 322.7 L483.6 322.3 L484.2 322.0 L484.8 321.7 L485.4 321.3 L486.0 321.0 L486.6 320.7 L487.3 320.3 L487.9 320.0 L488.5 319.7 L489.1 319.4 L489.7 319.0 L490.4 318.7 L491.0 318.4 L491.6 318.1 L492.2 317.7 L492.8 317.4 L493.5 317.1 L494.1 316.8 L494.7 316.4 L495.3 316.1 L495.9 315.8 L496.5 315.4 L497.1 315.1 L497.8 314.7 L498.4 314.4 L499.0 314.1 L499.6 313.7 L500.2 313.4 L500.8 313.0 L501.4 312.7 L502.0 312.3 L502.6 312.0 L503.2 311.6 L503.8 311.3 L504.4 310.9 L505.0 310.6 L505.7 310.2 L506.3 309.9 L506.9 309.5 L507.5 309.2 L508.1 308.8 L508.7 308.4 L509.3 308.1 L509.9 307.7 L510.5 307.4 L511.1 307.0 L511.7 306.6 L512.3 306.3 L512.9 305.9 L513.5 305.6 L514.1 305.2 L514.7 304.8 L515.3 304.5 L515.9 304.1 L516.5 303.8 L517.1 303.4 L517.7 303.0 L518.3 302.7 L518.9 302.3 L519.5 301.9 L520.1 301.6 L520.7 301.2 L521.2 300.8 L521.8 300.5 L522.4 300.1 L523.0 299.7 L523.6 299.3 L524.2 298.9 L524.8 298.5 L525.3 298.2 L525.9 297.8 L526.5 297.4 L527.1 297.0 L527.6 296.5 L528.2 296.1 L528.8 295.7 L529.3 295.3 L529.9 294.9 L530.4 294.4 L531.0 294.0 L531.5 293.6 L532.1 293.1 L532.6 292.7 L533.2 292.3 L533.7 291.8 L534.3 291.4 L534.8 290.9 L535.4 290.5 L535.9 290.1 L536.4 289.6 L537.0 289.2 L537.5 288.7 L538.1 288.3 L538.6 287.8 L539.2 287.4 L539.7 287.0 L540.2 286.5 L540.8 286.1 L541.3 285.7 L541.9 285.2 L542.5 284.8 L543.0 284.4 L543.6 284.0 L544.1 283.5 L544.7 283.1 L545.2 282.7 L545.8 282.3 L546.4 281.8 L546.9 281.4 L547.5 281.0 L548.0 280.6 L548.6 280.1 L549.1 279.7 L549.7 279.3 L550.2 278.8 L550.7 278.4 L551.3 277.9 L551.8 277.5 L552.3 277.0 L552.8 276.5 L553.4 276.1 L553.9 275.6 L554.4 275.1 L554.9 274.6 L555.4 274.1 L555.9 273.6 L556.4 273.1 L556.9 272.6 L557.4 272.1 L557.9 271.6 L558.3 271.1 L558.8 270.6 L559.3 270.1 L559.8 269.6 L560.3 269.2 L560.8 268.7 L561.3 268.2 L561.9 267.7 L562.4 267.2 L562.9 266.8 L563.4 266.3 L563.9 265.8 L564.5 265.4 L565.0 264.9 L565.5 264.5 L566.1 264.0 L566.6 263.6 L567.1 263.1 L567.7 262.7 L568.2 262.2 L568.8 261.8 L569.3 261.4 L569.9 260.9 L570.4 260.5 L570.9 260.0 L571.5 259.6 L572.0 259.1 L572.6 258.7 L573.1 258.2 L573.6 257.8 L574.2 257.3 L574.7 256.9 L575.2 256.4 L575.8 256.0 L576.3 255.5 L576.8 255.1 L577.4 254.6 L577.9 254.2 L578.5 253.7 L579.0 253.3 L579.5 252.9 L580.1 252.4 L580.6 252.0 L581.2 251.6 L581.7 251.1 L582.3 250.7 L582.8 250.3 L583.4 249.9 L584.0 249.4 L584.5 249.0 L585.1 248.6 L585.7 248.3 L586.4 248.0 L587.1 247.9 L587.8 247.9 L588.5 248.0 L589.1 248.1 L589.8 248.3 L590.5 248.5 L591.1 248.7 L591.8 249.0 L592.4 249.4 L593.0 249.7 L593.6 250.1 L594.1 250.6 L594.6 251.0 L595.1 251.5 L595.6 252.1 L596.0 252.6 L596.4 253.2 L596.8 253.8 L597.1 254.4 L597.5 255.0 L597.8 255.6 L598.1 256.3 L598.4 256.9 L598.7 257.5 L599.0 258.2 L599.3 258.8 L599.6 259.4 L599.9 260.1 L600.1 260.7 L600.4 261.4 L600.7 262.0 L601.0 262.6 L601.2 263.3 L601.5 264.0 L601.7 264.6 L601.9 265.3 L602.2 265.9 L602.4 266.6 L602.6 267.3 L602.8 267.9 L603.1 268.6 L603.3 269.3 L603.5 269.9 L603.7 270.6 L603.9 271.2 L604.1 271.9 L604.4 272.6 L604.6 273.2 L604.8 273.9 L605.1 274.6 L605.3 275.2 L605.5 275.9 L605.7 276.5 L606.0 277.2 L606.2 277.9 L606.4 278.5 L606.6 279.2 L606.8 279.9 L607.1 280.5 L607.3 281.2 L607.6 281.8 L607.8 282.5 L608.1 283.1 L608.5 283.7 L608.9 284.3 L609.3 284.9 L609.9 285.1 L610.4 284.7 L610.8 284.1 L611.1 283.4 L611.3 282.8 L611.6 282.1 L611.8 281.5 L612.0 280.8 L612.2 280.1 L612.4 279.5 L612.6 278.8 L612.8 278.1 L613.0 277.5 L613.2 276.8 L613.4 276.1 L613.6 275.4 L613.8 274.8 L614.0 274.1 L614.1 273.4 L614.3 272.7 L614.5 272.1 L614.7 271.4 L614.9 270.7 L615.1 270.0 L615.2 269.4 L615.4 268.7 L615.6 268.0 L615.8 267.3 L616.0 266.6 L616.2 266.0 L616.3 265.3 L616.5 264.6 L616.7 263.9 L616.8 263.3 L617.0 262.6 L617.2 261.9 L617.4 261.2 L617.5 260.5 L617.7 259.9 L617.9 259.2 L618.0 258.5 L618.2 257.8 L618.4 257.1 L618.6 256.5 L618.7 255.8 L618.9 255.1 L619.1 254.4 L619.3 253.8 L619.5 253.1 L619.7 252.4 L619.9 251.8 L620.1 251.1 L620.3 250.4 L620.5 249.8 L620.8 249.1 L621.0 248.4 L621.2 247.8 L621.5 247.1 L621.7 246.5 L622.0 245.8 L622.2 245.2 L622.5 244.5 L622.7 243.8 L623.0 243.2 L623.2 242.5 L623.5 241.9 L623.7 241.2 L624.0 240.6 L624.3 239.9 L624.5 239.3 L624.8 238.6 L625.0 238.0 L625.3 237.3 L625.6 236.7 L625.8 236.0 L626.0 235.4 L626.3 234.7 L626.5 234.1 L626.7 233.4 L627.0 232.7 L627.2 232.1 L627.5 231.5 L627.8 230.8 L628.2 230.2 L628.5 229.6 L628.9 229.0 L629.2 228.4 L629.6 227.8 L630.0 227.3 L630.5 226.7 L630.9 226.1 L631.3 225.6 L631.7 225.0 L632.1 224.4 L632.5 223.9 L632.9 223.3 L633.3 222.7 L633.7 222.2 L634.2 221.6 L634.6 221.0 L635.0 220.5 L635.4 219.9 L635.8 219.3 L636.2 218.8 L636.6 218.2 L637.0 217.6 L637.4 217.0 L637.7 216.4 L638.1 215.8 L638.5 215.2 L638.8 214.6 L639.1 214.0 L639.5 213.4 L639.8 212.8 L640.1 212.1 L640.4 211.5 L640.7 210.9 L641.1 210.3 L641.4 209.6 L641.7 209.0 L642.0 208.4 L642.4 207.8 L642.7 207.2 L643.1 206.6 L643.5 206.0 L643.9 205.4 L644.3 204.9 L644.7 204.3 L645.2 203.8 L645.6 203.2 L646.1 202.7 L646.6 202.2 L647.1 201.7 L647.6 201.2 L648.1 200.8 L648.6 200.3 L649.1 199.8 L649.7 199.4 L650.2 199.0 L650.8 198.5 L651.3 198.1 L651.9 197.7 L652.5 197.3 L653.0 196.9 L653.6 196.5 L654.2 196.1 L654.8 195.7 L655.4 195.4 L656.0 195.0 L656.6 194.6 L657.2 194.3 L657.8 194.0 L658.4 193.6 L659.1 193.3 L659.7 193.0 L660.3 192.7 L661.0 192.4 L661.6 192.1 L662.3 191.9 L662.9 191.6 L663.6 191.4 L664.2 191.2 L664.9 190.9 L665.6 190.7 L666.2 190.5 L666.9 190.2 L667.5 189.9 L668.1 189.6 L668.7 189.3 L669.3 188.9 L669.9 188.5 L670.4 188.0 L670.9 187.6 L671.4 187.1 L671.9 186.6 L672.4 186.0 L672.8 185.5 L673.3 184.9 L673.7 184.4 L674.1 183.8 L674.5 183.3 L674.9 182.7 L675.3 182.1 L675.8 181.6 L676.2 181.0 L676.6 180.4 L677.0 179.8 L677.4 179.3 L677.8 178.7 L678.2 178.1 L678.6 177.6 L679.0 177.0 L679.4 176.4 L679.9 175.9 L680.3 175.3 L680.7 174.8 L681.1 174.2 L681.6 173.7 L682.0 173.1 L682.4 172.6 L682.9 172.0 L683.3 171.5 L683.7 170.9 L684.1 170.4 L684.6 169.8 L685.0 169.3 L685.4 168.7 L685.9 168.1 L686.3 167.6 L686.7 167.0 L687.1 166.5 L687.5 165.9 L688.0 165.3 L688.4 164.8 L688.8 164.2 L689.2 163.6 L689.6 163.1 L690.0 162.5 L690.4 161.9 L690.8 161.3 L691.2 160.8 L691.6 160.2 L692.0 159.6 L692.4 159.0 L692.8 158.5 L693.2 157.9 L693.6 157.3 L694.0 156.7 L694.4 156.2 L694.8 155.6 L695.3 155.1 L695.7 154.5 L696.1 154.0 L696.6 153.4 L697.0 152.9 L697.5 152.4 L697.9 151.8 L698.4 151.3 L698.9 150.8 L699.3 150.3 L699.8 149.8 L700.3 149.2 L700.8 148.7 L701.3 148.2 L701.8 147.7 L702.3 147.3 L702.8 146.8 L703.3 146.3 L703.8 145.8 L704.3 145.3 L704.8 144.8 L705.3 144.4 L705.8 143.9 L706.3 143.4 L706.9 143.0 L707.4 142.5 L707.9 142.1 L708.5 141.6 L709.0 141.2 L709.6 140.8 L710.1 140.3 L710.7 139.9 L711.3 139.5 L711.9 139.1 L712.4 138.7 L713.0 138.3 L713.6 137.9 L714.1 137.5 L714.7 137.1 L715.3 136.7 L715.8 136.3 L716.4 135.9 L717.0 135.5 L717.6 135.1 L718.0 134.6 L718.6 134.2 L719.2 133.8 L719.8 133.5 L720.5 133.2 L721.1 133.0 L721.8 132.8 L722.4 132.6 L723.1 132.4 L723.8 132.3 L724.5 132.2 L725.2 132.2 L725.9 132.3 L726.6 132.4 L727.3 132.6 L727.9 132.8 L728.5 133.1 L729.2 133.5 L729.7 133.9 L730.3 134.3 L730.9 134.7 L731.4 135.1 L731.9 135.6 L732.5 136.1 L733.0 136.5 L733.5 137.0 L734.0 137.5 L734.4 138.1 L734.9 138.6 L735.3 139.1 L735.7 139.7 L736.1 140.3 L736.5 140.9 L736.8 141.5 L737.1 142.1 L737.4 142.7 L737.7 143.4 L738.0 144.0 L738.3 144.7 L738.6 145.3 L738.9 145.9 L739.1 146.6 L739.4 147.2 L739.7 147.9 L739.9 148.5 L740.2 149.2 L740.5 149.8 L740.7 150.5 L741.0 151.1 L741.2 151.8 L741.5 152.4 L741.7 153.1 L742.0 153.8 L742.2 154.4 L742.4 155.1 L742.7 155.7 L742.9 156.4 L743.2 157.0 L743.4 157.7 L743.6 158.4 L743.9 159.0 L744.1 159.7 L744.3 160.3 L744.6 161.0 L744.8 161.7 L745.1 162.3 L745.3 163.0 L745.5 163.6 L745.8 164.3 L746.0 165.0 L746.2 165.6 L746.4 166.3 L746.7 166.9 L746.9 167.6 L747.1 168.3 L747.3 168.9 L747.6 169.6 L747.8 170.3 L748.0 170.9 L748.2 171.6 L748.4 172.2 L748.7 172.9 L748.9 173.6 L749.1 174.2 L749.3 174.9 L749.5 175.6 L749.7 176.3 L749.9 176.9 L750.1 177.6 L750.3 178.3 L750.5 178.9 L750.7 179.6 L750.9 180.3 L751.1 180.9 L751.3 181.6 L751.5 182.3 L751.7 183.0 L751.9 183.6 L752.1 184.3 L752.3 185.0 L752.5 185.7 L752.6 186.3 L752.8 187.0 L753.0 187.7 L753.2 188.4 L753.4 189.0 L753.6 189.7 L753.7 190.4 L753.9 191.1 L754.1 191.7 L754.3 192.4 L754.5 193.1 L754.6 193.8 L754.8 194.5 L755.0 195.1 L755.1 195.8 L755.3 196.5 L755.5 197.2 L755.6 197.8 L755.8 198.5 L756.0 199.2 L756.1 199.9 L756.3 200.6 L756.5 201.2 L756.6 201.9 L756.8 202.6 L757.0 203.3 L757.1 204.0 L757.3 204.6 L757.5 205.3 L757.6 206.0 L757.8 206.7 L758.0 207.4 L758.1 208.1 L758.3 208.7 L758.4 209.4 L758.6 210.1 L758.8 210.8 L758.9 211.5 L759.1 212.1 L759.3 212.8 L759.4 213.5 L759.6 214.2 L759.7 214.9 L759.9 215.6 L760.0 216.2 L760.2 216.9 L760.3 217.6 L760.5 218.3 L760.6 219.0 L760.7 219.7 L760.9 220.3 L761.0 221.0 L761.1 221.7 L761.3 222.4 L761.4 223.1 L761.5 223.8 L761.7 224.5 L761.8 225.2 L761.9 225.8 L762.1 226.5 L762.2 227.2 L762.3 227.9 L762.4 228.6 L762.6 229.3 L762.7 230.0 L762.8 230.7 L762.9 231.4 L763.1 232.0 L763.2 232.7 L763.3 233.4 L763.4 234.1 L763.6 234.8 L763.7 235.5 L763.8 236.2 L764.0 236.9 L764.1 237.5 L764.2 238.2 L764.4 238.9 L764.5 239.6 L764.6 240.3 L764.8 241.0 L764.9 241.7 L765.0 242.4 L765.1 243.0 L765.3 243.7 L765.4 244.4 L765.5 245.1 L765.6 245.8 L765.8 246.5 L765.9 247.2 L766.0 247.9 L766.1 248.6 L766.3 249.2 L766.4 249.9 L766.5 250.6 L766.6 251.3 L766.7 252.0 L766.8 252.7 L767.0 253.4 L767.1 254.1 L767.2 254.8 L767.3 255.5 L767.4 256.2 L767.5 256.8 L767.6 257.5 L767.8 258.2 L767.9 258.9 L768.0 259.6 L768.1 260.3 L768.2 261.0 L768.4 261.7 L768.5 262.4 L768.6 263.1 L768.7 263.7 L768.8 264.4 L768.9 265.1 L769.1 265.8 L769.2 266.5 L769.3 267.2 L769.4 267.9 L769.6 268.6 L769.7 269.3 L769.8 269.9 L769.9 270.6 L770.0 271.3 L770.2 272.0 L770.3 272.7 L770.4 273.4 L770.5 274.1 L770.7 274.8 L770.8 275.5 L770.9 276.2 L771.0 276.8 L771.1 277.5 L771.3 278.2 L771.4 278.9 L771.5 279.6 L771.6 280.3 L771.7 281.0 L771.8 281.7 L772.0 282.4 L772.1 283.0 L772.2 283.7 L772.3 284.4 L772.4 285.1 L772.6 285.8 L772.7 286.5 L772.8 287.2 L772.9 287.9 L773.0 288.6 L773.1 289.3 L773.2 290.0 L773.3 290.6 L773.5 291.3 L773.6 292.0 L773.7 292.7 L773.8 293.4 L773.9 294.1 L774.0 294.8 L774.1 295.5 L774.2 296.2 L774.3 296.9 L774.4 297.6 L774.5 298.3 L774.6 299.0 L774.7 299.6 L774.8 300.3 L774.9 301.0 L775.0 301.7 L775.1 302.4 L775.2 303.1 L775.3 303.8 L775.4 304.5 L775.5 305.2 L775.6 305.9 L775.7 306.6 L775.8 307.3 L776.0 307.9 L776.1 308.6 L776.2 309.3 L776.3 310.0 L776.4 310.7 L776.5 311.4 L776.7 312.1 L776.8 312.8 L776.9 313.5 L777.0 314.2 L777.2 314.8 L777.3 315.5 L777.4 316.2 L777.5 316.9 L777.7 317.6 L777.8 318.3 L777.9 319.0 L778.0 319.7 L778.1 320.4 L778.3 321.0 L778.4 321.7 L778.5 322.4 L778.6 323.1 L778.8 323.8 L778.9 324.5 L779.0 325.2 L779.1 325.9 L779.3 326.6 L779.4 327.2 L779.5 327.9 L779.6 328.6 L779.8 329.3 L779.9 330.0 L780.0 330.7 L780.1 331.4 L780.2 332.1 L780.4 332.8 L780.5 333.5 L780.6 334.1 L780.7 334.8 L780.8 335.5 L781.0 336.2 L781.1 336.9 L781.2 337.6 L781.3 338.3 L781.4 339.0 L781.5 339.7 L781.6 340.4 L781.8 341.0 L781.9 341.7 L782.0 342.4 L782.1 343.1 L782.2 343.8 L782.3 344.5 L782.4 345.2 L782.5 345.9 L782.6 346.6 L782.7 347.3 L782.8 348.0 L782.9 348.7 L783.0 349.3 L783.1 350.0 L783.2 350.7 L783.3 351.4 L783.4 352.1 L783.5 352.8 L783.6 353.5 L783.7 354.2 L783.7 354.9 L783.8 355.6 L783.9 356.3 L784.0 357.0 L784.1 357.7 L784.2 358.4 L784.2 359.1 L784.3 359.8 L784.4 360.5 L784.5 361.2 L784.5 361.9 L784.6 362.6 L784.7 363.2 L784.8 363.9 L784.8 364.6 L784.9 365.3 L785.0 366.0 L785.0 366.7 L785.1 367.4 L785.2 368.1 L785.3 368.8 L785.3 369.5 L785.4 370.2 L785.5 370.9 L785.5 371.6 L785.6 372.3 L785.7 373.0 L785.7 373.7 L785.8 374.4 L785.9 375.1 L785.9 375.8 L786.0 376.5 L786.1 377.2 L786.1 377.9 L786.2 378.6 L786.3 379.3 L786.4 380.0 L786.4 380.7 L786.5 381.4 L786.6 382.1 L786.6 382.8 L786.7 383.4 L786.8 384.1 L786.8 384.8 L786.9 385.5 L787.0 386.2 L787.0 386.9 L787.1 387.6 L787.2 388.3 L787.3 389.0 L787.3 389.7 L787.4 390.4 L787.5 391.1 L787.5 391.8 L787.6 392.5 L787.7 393.2 L787.8 393.9 L787.8 394.6 L787.9 395.3 L788.0 396.0 L788.1 396.7 L788.2 397.4 L788.2 398.1 L788.3 398.8 L788.4 399.5 L788.5 400.1 L788.6 400.8 L788.7 401.5 L788.8 402.2 L788.9 402.9 L789.0 403.6 L789.1 404.3 L789.2 405.0 L789.3 405.7 L789.4 406.4 L789.5 407.1 L789.6 407.8 L789.7 408.5 L789.8 409.2 L789.9 409.9 L790.0 410.5 L790.1 411.2 L790.2 411.9 L790.3 412.6 L790.4 413.3 L790.5 414.0 L790.6 414.7 L790.7 415.4 L790.8 416.1 L790.9 416.8 L791.0 417.5 L791.1 418.2 L791.2 418.9 L791.3 419.5 L791.4 420.2 L791.5 420.9 L791.7 421.6 L791.8 422.3 L791.9 423.0 L792.0 423.7 L792.1 424.4 L792.2 425.1 L792.3 425.8 L792.4 426.5 L792.5 427.2 L792.6 427.8 L792.7 428.5 L792.8 429.2 L792.9 429.9 L793.0 430.6 L793.1 431.3 L793.3 432.0 L793.4 432.7 L793.5 433.4 L793.6 434.1 L793.7 434.8 L793.8 435.5 L793.9 436.2 L794.0 436.8 L794.1 437.5 L794.2 438.2 L794.3 438.9 L794.4 439.6 L794.5 440.3 L794.6 441.0 L794.7 441.7 L794.8 442.4 L794.9 443.1 L795.0 443.8 L795.1 444.5 L795.2 445.2 L795.3 445.9 L795.4 446.5 L795.5 447.2 L795.6 447.9 L795.6 448.6 L795.7 449.3 L795.8 450.0 L795.9 450.7 L796.0 451.4 L796.1 452.1 L796.2 452.8 L796.3 453.5 L796.4 454.2 L796.5 454.9 L796.6 455.6 L796.7 456.3 L796.8 456.9 L796.9 457.6 L797.0 458.3 L797.1 459.0 L797.3 459.7 L797.4 460.4 L797.5 461.1 L797.6 461.8 L797.7 462.5 L797.9 463.2 L798.0 463.8 L798.1 464.5 L798.2 465.2 L798.4 465.9 L798.5 466.6 L798.6 467.3 L798.8 468.0 L798.9 468.7 L799.1 469.3 L799.2 470.0 L799.3 470.7 L799.5 471.4 L799.6 472.1 L799.8 472.8 L799.9 473.4 L800.1 474.1 L800.3 474.8 L800.4 475.5 L800.6 476.2 L800.7 476.9 L800.9 477.5 L801.1 478.2 L801.3 478.9 L801.4 479.6 L801.6 480.2 L801.8 480.9 L802.0 481.6 L802.1 482.3 L802.3 483.0 L802.5 483.6 L802.7 484.3 L802.9 485.0 L803.0 485.7 L803.2 486.3 L803.4 487.0 L803.6 487.7 L803.8 488.4 L804.0 489.0 L804.2 489.7 L804.3 490.4 L804.5 491.1 L804.7 491.7 L804.9 492.4 L805.1 493.1 L805.3 493.7 L805.5 494.4 L805.7 495.1 L805.9 495.8 L806.1 496.4 L806.3 497.1 L806.5 497.8 L806.7 498.4 L806.9 499.1 L807.1 499.8 L807.3 500.4 L807.6 501.1 L807.8 501.8 L808.0 502.4 L808.2 503.1 L808.4 503.8 L808.6 504.4 L808.9 505.1 L809.1 505.8 L809.3 506.4 L809.5 507.1 L809.8 507.8 L810.0 508.4 L810.2 509.1 L810.5 509.7 L810.7 510.4 L810.9 511.1 L811.2 511.7 L811.4 512.4 L811.7 513.0 L811.9 513.7 L812.2 514.3 L812.5 515.0 L812.7 515.6 L813.0 516.3 L813.3 516.9 L813.5 517.6 L813.8 518.2 L814.1 518.8 L814.4 519.5 L814.6 520.1 L814.9 520.8 L815.2 521.4 L815.5 522.0 L815.8 522.7 L816.1 523.3 L816.4 523.9 L816.7 524.6 L817.0 525.2 L817.3 525.8 L817.7 526.4 L818.0 527.1 L818.3 527.7 L818.7 528.3 L819.0 528.9 L819.4 529.5 L819.7 530.1 L820.1 530.7 L820.5 531.3 L820.9 531.9 L821.3 532.4 L821.7 533.0 L822.1 533.6 L822.5 534.1 L822.9 534.7 L823.3 535.3 L823.8 535.8 L824.2 536.4 L824.6 536.9 L825.1 537.4 L825.5 538.0 L826.0 538.5 L826.5 539.0 L826.9 539.5 L827.4 540.0 L827.9 540.6 L828.4 541.1 L828.9 541.5 L829.4 542.0 L829.9 542.5 L830.4 543.0 L830.9 543.5 L831.5 543.9 L832.0 544.4 L832.6 544.8 L833.1 545.2 L833.7 545.6 L834.3 546.0 L834.8 546.4 L835.4 546.8 L836.0 547.2 L836.6 547.5 L837.2 547.9 L837.8 548.2 L838.5 548.5 L839.1 548.9 L839.7 549.2 L840.3 549.5 L841.0 549.8 L841.6 550.1 L842.2 550.3 L842.9 550.6 L843.5 550.9 L844.2 551.1 L844.8 551.4 L845.5 551.6 L846.2 551.9 L846.8 552.1 L847.5 552.3 L848.2 552.4 L848.9 552.6 L849.6 552.7 L850.2 552.8 L850.9 552.9 L851.6 553.0 L852.3 553.0 L853.0 553.0 L853.7 553.0 L854.4 553.0 L855.1 552.9 L855.8 552.8 L856.5 552.7 L857.2 552.6 L857.9 552.4 L858.6 552.2 L859.2 552.0 L859.9 551.8 L860.5 551.5 L861.2 551.2 L861.8 550.9 L862.4 550.6 L863.0 550.2 L863.6 549.9 L864.2 549.5 L864.8 549.1 L865.4 548.7 L866.0 548.3 L866.5 547.9 L867.1 547.5 L867.7 547.1 L868.2 546.7 L868.8 546.3 L869.3 545.8 L869.9 545.4 L870.4 544.9 L870.9 544.5 L871.4 544.0 L872.0 543.5 L872.5 543.0 L873.0 542.6 L873.5 542.1 L874.0 541.6 L874.5 541.1 L874.9 540.5 L875.4 540.0 L875.8 539.5 L876.3 538.9 L876.7 538.4 L877.1 537.8 L877.5 537.2 L877.9 536.7 L878.3 536.1 L878.6 535.4 L878.9 534.8 L879.2 534.2 L879.5 533.6 L879.8 532.9 L880.1 532.3 L880.4 531.6 L880.6 531.0 L880.8 530.3 L881.1 529.7 L881.3 529.0 L881.5 528.3 L881.7 527.7 L882.0 527.0 L882.2 526.3 L882.4 525.7 L882.6 525.0 L882.8 524.3 L883.0 523.7 L883.2 523.0 L883.4 522.3 L883.6 521.6 L883.7 521.0 L883.9 520.3 L884.1 519.6 L884.3 518.9 L884.5 518.3 L884.6 517.6 L884.8 516.9 L885.0 516.2 L885.2 515.5 L885.3 514.9 L885.5 514.2 L885.7 513.5 L885.8 512.8 L886.0 512.2 L886.2 511.5 L886.3 510.8 L886.5 510.1 L886.7 509.4 L886.8 508.7 L887.0 508.1 L887.1 507.4 L887.3 506.7 L887.4 506.0 L887.6 505.3 L887.7 504.6 L887.9 504.0 L888.0 503.3 L888.2 502.6 L888.3 501.9 L888.4 501.2 L888.6 500.5 L888.7 499.8 L888.8 499.2 L889.0 498.5 L889.1 497.8 L889.2 497.1 L889.3 496.4 L889.5 495.7 L889.6 495.0 L889.7 494.3 L889.8 493.6 L890.0 493.0 L890.1 492.3 L890.2 491.6 L890.3 490.9 L890.5 490.2 L890.6 489.5 L890.7 488.8 L890.8 488.1 L891.0 487.5 L891.1 486.8 L891.2 486.1 L891.3 485.4 L891.5 484.7 L891.6 484.0 L891.7 483.3 L891.8 482.6 L892.0 481.9 L892.1 481.3 L892.2 480.6 L892.3 479.9 L892.5 479.2 L892.5 479.0" stroke-width="2.45" stroke-linecap="round" stroke-dasharray="5.6 10.9"/>
</g>
<g stroke="#000" stroke-width="3.5" fill="none">
<rect x="61.3" y="1.7" width="833" height="620.3"/>
</g>
<g stroke="#000" stroke-width="3.6">
<line x1="61.3" y1="622" x2="61.3" y2="633.5"/><line x1="119.2" y1="622" x2="119.2" y2="627.8"/><line x1="177.0" y1="622" x2="177.0" y2="633.5"/><line x1="234.8" y1="622" x2="234.8" y2="627.8"/><line x1="292.7" y1="622" x2="292.7" y2="633.5"/><line x1="350.6" y1="622" x2="350.6" y2="627.8"/><line x1="408.4" y1="622" x2="408.4" y2="633.5"/><line x1="466.2" y1="622" x2="466.2" y2="627.8"/><line x1="524.1" y1="622" x2="524.1" y2="633.5"/><line x1="581.9" y1="622" x2="581.9" y2="627.8"/><line x1="639.8" y1="622" x2="639.8" y2="633.5"/><line x1="697.6" y1="622" x2="697.6" y2="627.8"/><line x1="755.5" y1="622" x2="755.5" y2="633.5"/><line x1="813.3" y1="622" x2="813.3" y2="627.8"/><line x1="871.2" y1="622" x2="871.2" y2="633.5"/>
</g>
<g font-size="30.6">
<text transform="translate(61.30 664.9) scale(0.955 1)" text-anchor="middle">4000</text><text transform="translate(177.00 664.9) scale(0.955 1)" text-anchor="middle">3500</text><text transform="translate(292.70 664.9) scale(0.955 1)" text-anchor="middle">3000</text><text transform="translate(408.40 664.9) scale(0.955 1)" text-anchor="middle">2500</text><text transform="translate(524.10 664.9) scale(0.955 1)" text-anchor="middle">2000</text><text transform="translate(639.80 664.9) scale(0.955 1)" text-anchor="middle">1500</text><text transform="translate(755.50 664.9) scale(0.955 1)" text-anchor="middle">1000</text><text transform="translate(871.20 664.9) scale(0.955 1)" text-anchor="middle">500</text>
</g>
<text class="thin" transform="translate(299 718.6) scale(0.957 1)" font-size="38">Wave number (cm<tspan font-size="23" dx="-2.1" dy="-19.5">-1</tspan><tspan dx="1" dy="24.5">)</tspan></text>
<text class="thin" transform="translate(27.6 494.2) rotate(-90) scale(0.98 1)" font-size="38.5">Transmitance (a.u)</text>
<g>
<rect x="142" y="35.8" width="281.3" height="92.2" fill="#fff" stroke="#000" stroke-width="2"/>
<line x1="155.2" y1="56" x2="208.5" y2="56" stroke="#000" stroke-width="2.1" stroke-dasharray="7.8 7.2"/>
<line x1="155.2" y1="101.9" x2="221.5" y2="101.9" stroke="#000" stroke-width="2.1"/>
<text transform="translate(229 65.9) scale(0.94 1)" font-size="31.5">ZBT<tspan font-size="22.5" dy="11.8">3</tspan></text>
<text transform="translate(229.7 112.2) scale(0.94 1)" font-size="31">Undoped TiO<tspan font-size="21.5" dy="10.7">2</tspan></text>
</g>
<text x="285" y="396.5" font-size="30">b</text>
<text x="296.5" y="513.6" font-size="30">a</text>
<text transform="translate(763.5 604.1) scale(0.95 1)" font-size="22.6">512.07cm<tspan font-size="14.5" dx="0" dy="-10.2">-1</tspan></text>
<g>
<text transform="translate(152.70 402.71) rotate(-90) scale(0.97 1)" font-size="22">3663.34 cm<tspan font-size="18" dx="0.5" dy="-11.8">-1</tspan></text><text transform="translate(214.30 449.51) rotate(-90) scale(0.97 1)" font-size="22">3,400.01 cm<tspan font-size="18" dx="0.5" dy="-11.8">-1</tspan></text><text transform="translate(446.30 335.07) rotate(-90) scale(0.97 1)" font-size="22">2377.99 cm<tspan font-size="18" dx="0.5" dy="-11.8">-1</tspan></text><text transform="translate(595.00 228.32) rotate(-90) scale(0.97 1)" font-size="22">1725.11 cm<tspan font-size="18" dx="0.5" dy="-11.8">-1</tspan></text><text transform="translate(623.50 226.52) rotate(-90) scale(0.97 1)" font-size="22">1632.81 cm<tspan font-size="18" dx="0.5" dy="-11.8">-1</tspan></text><text transform="translate(673.70 156.62) rotate(-90) scale(0.97 1)" font-size="22">1392.42 cm<tspan font-size="18" dx="0.5" dy="-11.8">-1</tspan></text><text transform="translate(702.10 123.42) rotate(-90) scale(0.97 1)" font-size="22">1201 cm<tspan font-size="18" dx="0.5" dy="-11.8">-1</tspan></text><text transform="translate(732.20 130.42) rotate(-90) scale(0.97 1)" font-size="22">1131.99 cm<tspan font-size="18" dx="0.5" dy="-11.8">-1</tspan></text><text transform="translate(852.80 520.55) rotate(-90) scale(0.97 1)" font-size="22">576.87 cm<tspan font-size="18" dx="0.5" dy="-11.8">-1</tspan></text><text transform="translate(888.80 486.79) rotate(-90) scale(0.97 1)" font-size="22">434 cm<tspan font-size="18" dx="0.5" dy="-11.8">-1</tspan></text>
</g>
</svg>
</body></html>
